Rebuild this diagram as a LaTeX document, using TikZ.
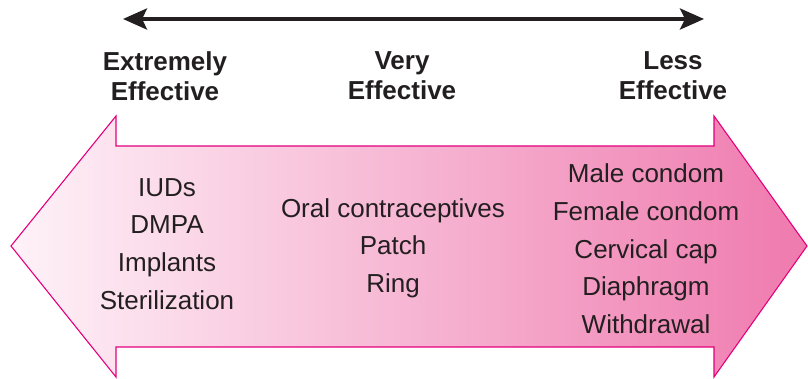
\documentclass[tikz,border=0pt]{standalone}
\usepackage{fontspec}
\setmainfont{Liberation Sans}
\usetikzlibrary{arrows.meta, positioning}
\definecolor{scaleInk}{RGB}{35,31,32}
\definecolor{scaleEdge}{RGB}{228,0,124}
\definecolor{scaleLight}{RGB}{254,242,248}
\definecolor{scaleMid}{RGB}{246,196,220}
\definecolor{scaleDeep}{RGB}{239,122,174}
\tikzset{
    scale chart/.style={x=1pt, y=-1pt, line join=miter,
                        text=scaleInk},
    bigarrow/.style={draw=scaleEdge, line width=1.1pt,
                     left color=scaleLight, right color=scaleDeep},
    headline/.style={font=\fontsize{26}{30}\selectfont\bfseries,
                     align=center, inner sep=0pt},
    methods/.style={font=\fontsize{26}{37.7}\selectfont,
                    align=center, inner sep=0pt},
    scalearrow/.style={{Stealth[length=24pt, width=21pt, inset=5pt]}-{Stealth[length=24pt, width=21pt, inset=5pt]},
                       line width=4pt, draw=scaleInk},
}

\begin{document}
\begin{tikzpicture}[scale chart]
\useasboundingbox (0,0) rectangle (808,379);

% ─── Échelle d'efficacité ───────────────────────────────────────────────
\coordinate (leastEnd) at (123,19);
\coordinate (mostEnd)  at (704,19);
\draw[scalearrow] (leastEnd) -- (mostEnd);

\node[headline] (extreme) at (165,76) {Extremely\\Effective};
\node[headline] (very)    at (402,76) {Very\\Effective};
\node[headline] (less)    at (673,76) {Less\\Effective};

% ─── Grande flèche ──────────────────────────────────────────────────────
\path[bigarrow] (11,246) -- (116,116) -- (116,146) -- (714,146)
    -- (714,116) -- (807,246) -- (714,377) -- (714,347)
    -- (116,347) -- (116,377) -- cycle;

% ─── Méthodes ───────────────────────────────────────────────────────────
\node[methods] (tierone)   at (167,244) {IUDs\\DMPA\\Implants\\Sterilization};
\node[methods] (tiertwo)   at (393,248) {Oral contraceptives\\Patch\\Ring};
\node[methods] (tierthree) at (646,249) {Male condom\\Female condom\\Cervical cap\\Diaphragm\\Withdrawal};

\end{tikzpicture}
\end{document}
